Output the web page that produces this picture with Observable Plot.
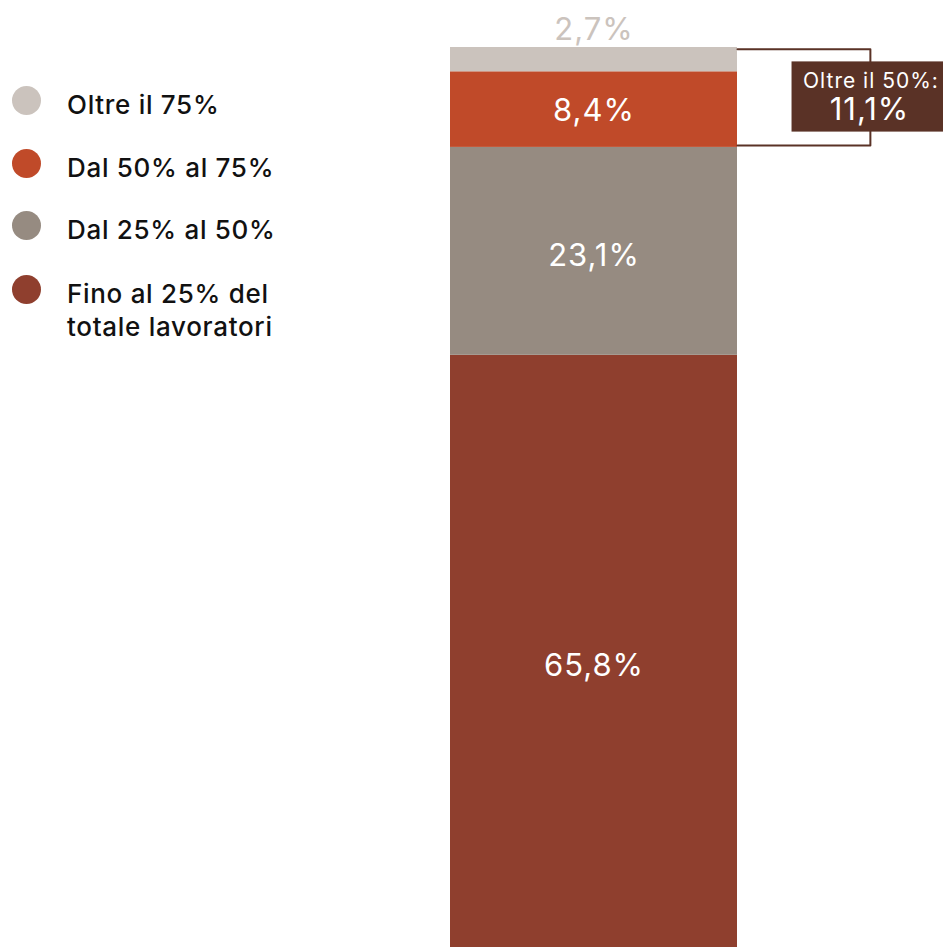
<!DOCTYPE html>
<html><head><meta charset="utf-8">
<script src="https://cdn.jsdelivr.net/npm/d3@7"></script>
<script src="https://cdn.jsdelivr.net/npm/@observablehq/plot@0.6"></script>
<style>
body{margin:0;background:#fff;font-family:Inter,"Open Sans",sans-serif;}
#wrap{position:relative;width:943px;height:947px;overflow:hidden;}
#legend{position:absolute;left:0;top:0;}
.li{position:absolute;left:67px;font-size:26px;font-weight:500;letter-spacing:0.7px;line-height:33px;color:#111;white-space:nowrap;}
.dot{position:absolute;left:12px;width:29px;height:29px;border-radius:50%;}
</style></head>
<body><div id="wrap"><div id="chart"></div><div id="legend"></div></div>
<script>
const categories = ["Fino al 25% del totale lavoratori", "Dal 25% al 50%", "Dal 50% al 75%", "Oltre il 75%"];
const values = [65.8, 23.1, 8.4, 2.7];
const labels = ["65,8%", "23,1%", "8,4%", "2,7%"];
const colors = ["#8f3f2e", "#968b81", "#c04a29", "#cbc3bd"];
const legendOrder = ["Oltre il 75%", "Dal 50% al 75%", "Dal 25% al 50%", "Fino al 25% del\ntotale lavoratori"];
const legendColors = ["#cbc3bd", "#c04a29", "#968b81", "#8f3f2e"];
const bracketLabel = "Oltre il 50%:";
const bracketValue = "11,1%";

let acc = 0;
const rows = categories.map((c, i) => {
  const y1 = acc; acc += values[i];
  return {cat: c, value: values[i], y1, y2: acc, label: labels[i], color: colors[i], i};
});
const inside = rows.filter(d => d.i < 3);
const topRow = rows[3];
const over50 = rows[2].y1; // 89.1 boundary
const font = "Inter, 'Open Sans', sans-serif";

const chart = Plot.plot({
  width: 943, height: 947,
  marginTop: 47, marginBottom: 0, marginLeft: 450, marginRight: 206,
  x: {domain: [0, 1], axis: null},
  y: {domain: [0, 100], axis: null},
  style: {fontFamily: font, background: "transparent", letterSpacing: "1px"},
  marks: [
    Plot.rectY(rows, {x1: 0, x2: 1, y1: "y1", y2: "y2", fill: "color", inset: 0}),
    Plot.text(inside, {x: 0.5, y: d => d.y2 - 0.525 * d.value, text: "label", fill: "white", fontSize: 31, textAnchor: "middle"}),
    Plot.text([topRow], {x: 0.5, y: "y2", text: "label", fill: "#cbc3bd", fontSize: 31, lineAnchor: "bottom", dy: -8}),
    Plot.line([{x: 1, y: 99.8}, {x: 1.463, y: 99.8}, {x: 1.463, y: over50 + 0.2}, {x: 1, y: over50 + 0.2}],
      {x: "x", y: "y", stroke: "#5a3226", strokeWidth: 2}),
    Plot.rect([{x1: 1.19, x2: 1.72, y1: 90.6, y2: 98.4}], {x1: "x1", x2: "x2", y1: "y1", y2: "y2", fill: "#5a3226"}),
    Plot.text([bracketLabel], {x: 1.465, y: 96.3, text: d => d, fill: "white", fontSize: 21}),
    Plot.text([bracketValue], {x: 1.46, y: 93.0, text: d => d, fill: "white", fontSize: 31})
  ]
});
document.getElementById("chart").appendChild(chart);

const lg = document.getElementById("legend");
const dotYs = [100, 163, 225, 289];
legendOrder.forEach((t, i) => {
  const dot = document.createElement("div");
  dot.className = "dot"; dot.style.background = legendColors[i];
  dot.style.top = (dotYs[i] - 14.5) + "px";
  lg.appendChild(dot);
  const txt = document.createElement("div");
  txt.className = "li";
  txt.style.top = (dotYs[i] - 12) + "px";
  txt.innerHTML = t.replace("\n", "<br>");
  lg.appendChild(txt);
});
</script></body></html>
